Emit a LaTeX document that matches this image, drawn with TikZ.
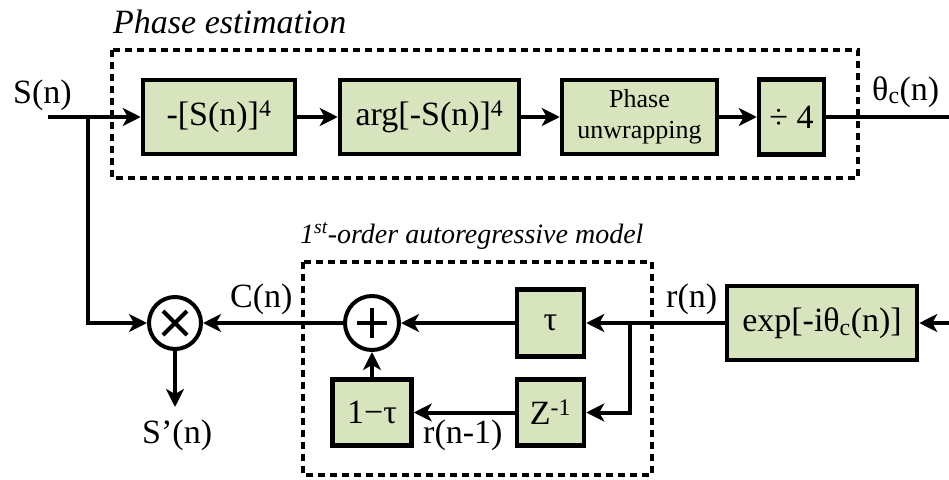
\documentclass[tikz,border=0pt]{standalone}
\usepackage{fontspec}
\setmainfont{Liberation Serif}
\usetikzlibrary{arrows.meta}
\definecolor{boxgreen}{HTML}{D7E4BD}
\begin{document}
\begin{tikzpicture}[x=1pt,y=-1pt,
  blk/.style={draw, line width=4.5pt, fill=boxgreen, inner sep=0pt,
    font=\fontsize{34}{38}\selectfont},
  sumnode/.style={circle, draw, line width=4pt, fill=white,
    minimum size=52pt, inner sep=0pt},
  sig/.style={line width=4pt, -{Stealth[length=18pt,width=18pt,inset=5pt]}},
  wire/.style={line width=4pt},
  grp/.style={line width=3.5pt, dash pattern=on 7pt off 5pt},
  lbl/.style={font=\fontsize{34}{38}\selectfont, inner sep=0pt, anchor=base west},
  ttl/.style={font=\itshape, inner sep=0pt, anchor=base west}
]
\useasboundingbox (0,0) rectangle (949,479);

% group frames
\draw[grp] (112,50) rectangle (858,178);
\draw[grp] (303,262) rectangle (652,475);
\node[ttl, font=\itshape\fontsize{34}{38}\selectfont] (t1) at (113,33) {Phase estimation};
\node[ttl, font=\itshape\fontsize{28}{32}\selectfont] (t2) at (300,243) {1\textsuperscript{st}-order autoregressive model};

% phase estimation chain
\node[blk, minimum width=152pt, minimum height=74pt] (b1) at (219,117) {-[S(n)]\textsuperscript{4}};
\node[blk, minimum width=179pt, minimum height=74pt] (b2) at (429.5,117) {arg[-S(n)]\textsuperscript{4}};
\node[blk, minimum width=155pt, minimum height=74pt, align=center,
      font=\fontsize{26}{31}\selectfont] (b3) at (639.5,117) {Phase\\unwrapping};
\node[blk, minimum width=65pt, minimum height=75pt] (b4) at (791.5,117) {÷ 4};

\coordinate (in0) at (48,117);
\coordinate (br1) at (88,117);
\coordinate (out0) at (949,117);

\node[lbl] (ls) at (13,103) {S(n)};
\node[lbl] (lth) at (872,100) {θ\textsubscript{c}(n)};

\draw[sig] (in0) -- (b1);
\draw[sig] (b1) -- (b2);
\draw[sig] (b2) -- (b3);
\draw[sig] (b3) -- (b4);
\draw[wire] (b4) -- (out0);

% correction loop
\node[sumnode] (m) at (175,323) {};
\node[sumnode, minimum size=54pt] (p) at (372,323) {};
\draw[line width=4pt] ([shift={(-12,-12)}]m.center) -- ([shift={(12,12)}]m.center)
                      ([shift={(-12,12)}]m.center) -- ([shift={(12,-12)}]m.center);
\draw[line width=4pt] ([shift={(-15,0)}]p.center) -- ([shift={(15,0)}]p.center)
                      ([shift={(0,-15)}]p.center) -- ([shift={(0,15)}]p.center);

\node[blk, minimum width=67pt, minimum height=67pt] (tau) at (550.5,323) {τ};
\node[blk, minimum width=67pt, minimum height=66pt] (z) at (550.5,412.5) {Z\textsuperscript{-1}};
\node[blk, minimum width=79pt, minimum height=66pt] (omt) at (372,412.5) {1−τ};
\node[blk, minimum width=190pt, minimum height=74pt] (ex) at (822,323) {exp[-iθ\textsubscript{c}(n)]};

\coordinate (in1) at (949,323);
\coordinate (br2) at (630,323);
\coordinate (sout) at (175,407);

\node[lbl] (lc) at (230,307) {C(n)};
\node[lbl] (lr) at (666,307) {r(n)};
\node[lbl] (lsp) at (142,443) {S’(n)};
\node[lbl] (lr1) at (423,443) {r(n-1)};

\draw[sig] (in1) -- (ex);
\draw[sig] (ex) -- (tau);
\draw[sig] (br2) |- (z);
\draw[sig] (tau) -- (p);
\draw[sig] (z) -- (omt);
\draw[sig] (omt) -- (p);
\draw[sig] (p) -- (m);
\draw[sig] (br1) |- (m);
\draw[sig] (m) -- (sout);
\end{tikzpicture}
\end{document}
